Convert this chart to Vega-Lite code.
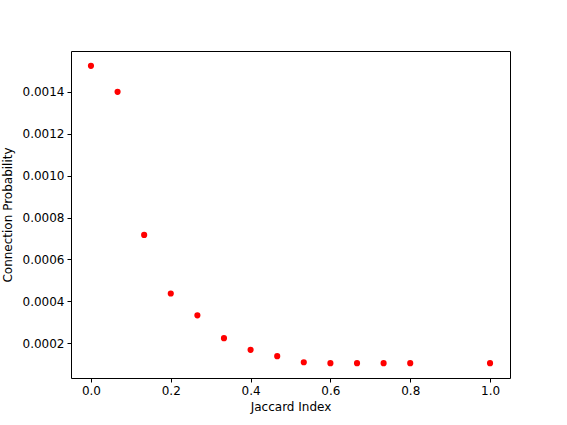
{
  "$schema": "https://vega.github.io/schema/vega-lite/v6.json",
  "width": 439,
  "height": 327,
  "autosize": {"type": "none"},
  "padding": {"left": 71, "top": 51, "right": 57, "bottom": 47},
  "background": "white",
  "config": {
    "view": {"stroke": "black", "strokeWidth": 1},
    "axis": {
      "labelFont": "DejaVu Sans",
      "titleFont": "DejaVu Sans",
      "labelFontSize": 12,
      "titleFontSize": 12,
      "titleFontWeight": "normal",
      "labelColor": "black",
      "titleColor": "black",
      "tickColor": "black",
      "domainColor": "black",
      "grid": false,
      "tickSize": 4,
      "labelPadding": 3,
      "domain": false
    }
  },
  "data": {
    "values": [
      {"j": 0.0, "p": 0.001524},
      {"j": 0.0667, "p": 0.0014},
      {"j": 0.1333, "p": 0.000717},
      {"j": 0.2, "p": 0.000437},
      {"j": 0.2667, "p": 0.000333},
      {"j": 0.3333, "p": 0.000224},
      {"j": 0.4, "p": 0.000168},
      {"j": 0.4667, "p": 0.000138},
      {"j": 0.5333, "p": 0.000109},
      {"j": 0.6, "p": 0.0001047},
      {"j": 0.6667, "p": 0.0001047},
      {"j": 0.7333, "p": 0.0001047},
      {"j": 0.8, "p": 0.0001047},
      {"j": 1.0, "p": 0.0001047}
    ]
  },
  "mark": {"type": "circle", "size": 38, "color": "#ff0000", "opacity": 1},
  "encoding": {
    "x": {
      "field": "j",
      "type": "quantitative",
      "title": "Jaccard Index",
      "scale": {"domain": [-0.05, 1.05], "nice": false, "zero": false},
      "axis": {"values": [0, 0.2, 0.4, 0.6, 0.8, 1.0], "format": ".1f", "titlePadding": 5}
    },
    "y": {
      "field": "p",
      "type": "quantitative",
      "title": "Connection Probability",
      "scale": {"domain": [0.0000337, 0.001595], "nice": false, "zero": false},
      "axis": {"values": [0.0002, 0.0004, 0.0006, 0.0008, 0.001, 0.0012, 0.0014], "format": ".4f", "titlePadding": 8}
    }
  }
}
